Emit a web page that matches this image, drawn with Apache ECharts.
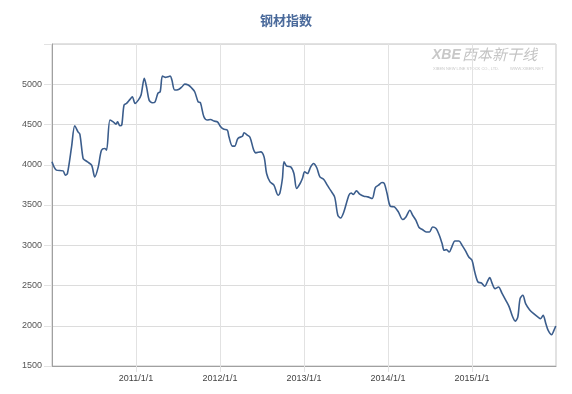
<!DOCTYPE html>
<html>
<head>
<meta charset="utf-8">
<script src="https://cdn.jsdelivr.net/npm/echarts@6/dist/echarts.min.js"></script>
<style>
html,body{margin:0;padding:0;background:#fff;}
#chart{width:572px;height:394px;}
</style>
</head>
<body>
<div id="chart"></div>
<script>
var title = '钢材指数';
var dates = [
'2010-01-01','2010-01-20','2010-02-18','2010-02-28','2010-03-09','2010-03-27','2010-04-10','2010-04-24','2010-05-02','2010-05-16',
'2010-05-24','2010-06-04','2010-06-22','2010-07-06','2010-07-21','2010-08-04','2010-08-19','2010-08-26','2010-09-10','2010-09-24',
'2010-10-06','2010-10-13','2010-10-23','2010-10-31','2010-11-10','2010-11-21','2010-12-06','2010-12-16','2010-12-28',
'2011-01-11','2011-01-23','2011-02-06','2011-02-17','2011-02-27','2011-03-13','2011-03-25','2011-04-06','2011-04-16','2011-04-26',
'2011-05-08','2011-05-20','2011-05-30','2011-06-06','2011-06-18','2011-07-05','2011-07-20','2011-08-01','2011-08-16','2011-08-30',
'2011-09-13','2011-09-28','2011-10-08','2011-10-23','2011-11-07','2011-11-21','2011-12-06','2011-12-21',
'2012-01-04','2012-01-16','2012-02-02','2012-02-09','2012-02-24','2012-03-05','2012-03-19','2012-04-08','2012-04-15','2012-04-29',
'2012-05-11','2012-05-26','2012-06-05','2012-06-26','2012-07-11','2012-07-22','2012-08-06','2012-08-23','2012-09-10','2012-09-18',
'2012-09-29','2012-10-06','2012-10-18','2012-11-04','2012-11-18','2012-11-30','2012-12-15','2012-12-25',
'2013-01-04','2013-01-16','2013-01-30','2013-02-11','2013-02-25','2013-03-11','2013-03-28','2013-04-12','2013-04-26','2013-05-14',
'2013-05-28','2013-06-09','2013-06-23','2013-07-15','2013-07-25','2013-08-03','2013-08-17','2013-08-31','2013-09-18','2013-10-05',
'2013-10-24','2013-11-07','2013-11-21','2013-12-06','2013-12-16','2013-12-28',
'2014-01-11','2014-01-29','2014-02-15','2014-03-06','2014-03-20','2014-04-06','2014-04-18','2014-05-02','2014-05-16','2014-05-30',
'2014-06-16','2014-06-30','2014-07-14','2014-07-29','2014-08-12','2014-08-24','2014-09-02','2014-09-12','2014-09-24','2014-10-05',
'2014-10-19','2014-11-05','2014-11-19','2014-12-04','2014-12-18',
'2015-01-01','2015-01-13','2015-01-27','2015-02-11','2015-02-26','2015-03-08','2015-03-19','2015-03-30','2015-04-11','2015-04-26',
'2015-05-11','2015-05-28','2015-06-12','2015-06-27','2015-07-08','2015-07-19','2015-07-29','2015-08-10','2015-08-22','2015-09-08',
'2015-09-26','2015-10-15','2015-10-26','2015-11-06','2015-11-18','2015-11-28','2015-12-13','2015-12-23','2015-12-31'
];
var values = [
4036,3933,3924,3870,3891,4222,4484,4409,4380,4078,
4057,4036,3995,3849,3974,4181,4202,4181,4555,4533,
4505,4533,4484,4492,4741,4762,4812,4844,4762,
4803,4866,5073,4949,4803,4770,4782,4887,4907,5102,
5086,5094,5102,5052,4928,4936,4969,5002,4990,4956,
4907,4782,4770,4596,4555,4563,4542,4533,
4471,4443,4430,4347,4231,4231,4327,4356,4397,4368,
4339,4190,4148,4160,4098,3891,3787,3746,3622,3650,
3829,4036,3982,3974,3891,3705,3767,3829,
3911,3891,3974,4016,3966,3849,3817,3746,3684,3601,
3373,3339,3414,3622,3650,3630,3676,3634,3609,3601,
3580,3717,3746,3779,3767,3643,
3485,3476,3414,3319,3352,3435,3373,3311,3220,3195,
3165,3165,3227,3207,3124,3021,2937,2946,2916,2978,
3053,3053,2999,2929,2854,
2813,2667,2543,2531,2490,2543,2598,2523,2461,2481,
2406,2315,2232,2108,2058,2108,2337,2378,2274,2200,
2150,2108,2088,2129,2025,1942,1889,1942,1996
];
var yTicks = [1500,2000,2500,3000,3500,4000,4500,5000];
var xYears = [2011,2012,2013,2014,2015];

function toYear(s){
  var p = s.split('-');
  var y = +p[0];
  var t = Date.UTC(y, +p[1]-1, +p[2]);
  var a = Date.UTC(y,0,1), b = Date.UTC(y+1,0,1);
  return y + (t-a)/(b-a);
}
var seriesData = dates.map(function(d,i){ return [toYear(d), values[i]]; });

var chart = echarts.init(document.getElementById('chart'), null, {renderer:'canvas'});
chart.setOption({
  animation:false,
  backgroundColor:'#fff',
  title:{
    text:title, left:'center', top:9,
    textStyle:{fontFamily:'"Noto Sans CJK SC", sans-serif', fontSize:13, fontWeight:'bold', color:'#4a6a9b'}
  },
  grid:{left:52, right:16, top:44, bottom:28, show:true, borderColor:'#c4c4c4', borderWidth:1, backgroundColor:'transparent'},
  xAxis:{
    type:'value', min:2010, max:2016, interval:1,
    axisLine:{show:true, lineStyle:{color:'#a0a0a0', width:1}},
    axisTick:{show:true, length:6, lineStyle:{color:'#e2e2e2'}},
    splitLine:{show:true, lineStyle:{color:'#e2e2e2', width:1}},
    axisLabel:{
      margin:8, fontSize:9, color:'#444', fontFamily:'Arial, "Liberation Sans", sans-serif',
      formatter:function(v){ return xYears.indexOf(v) >= 0 ? v + '/1/1' : ''; },
      showMinLabel:false, showMaxLabel:false
    }
  },
  yAxis:{
    type:'value', min:1500, max:5500, interval:500,
    axisLine:{show:true, lineStyle:{color:'#a0a0a0', width:1}},
    axisTick:{show:true, length:8, lineStyle:{color:'#e2e2e2'}},
    splitLine:{show:true, lineStyle:{color:'#dcdcdc', width:1}},
    axisLabel:{
      margin:10, fontSize:9, color:'#555', fontFamily:'Arial, "Liberation Sans", sans-serif',
      formatter:function(v){ return yTicks.indexOf(v) >= 0 ? String(v) : ''; }
    }
  },
  graphic:[
    {type:'text', left:432, top:48, style:{text:'XBE', fontSize:14, fontWeight:'bold', fontStyle:'italic', fill:'#c8c8c8', fontFamily:'Arial, sans-serif'}},
    {type:'text', left:462, top:47, style:{text:'西本新干线', fontSize:15, fontStyle:'italic', fill:'#c4c4c4', fontFamily:'"Noto Sans CJK SC", sans-serif'}},
    {type:'text', left:433, top:67, style:{text:'XIBEN NEW LINE STOCK CO., LTD.', fontSize:4, fill:'#c8c8c8', fontFamily:'Arial, sans-serif'}},
    {type:'text', left:510, top:67, style:{text:'WWW.XIBEN.NET', fontSize:4, fill:'#c8c8c8', fontFamily:'Arial, sans-serif'}}
  ],
  series:[{
    type:'line', data:seriesData, showSymbol:false, smooth:0.3,
    lineStyle:{color:'#3b5d8c', width:1.6},
    itemStyle:{color:'#3b5d8c'}
  }]
});
</script>
</body>
</html>
